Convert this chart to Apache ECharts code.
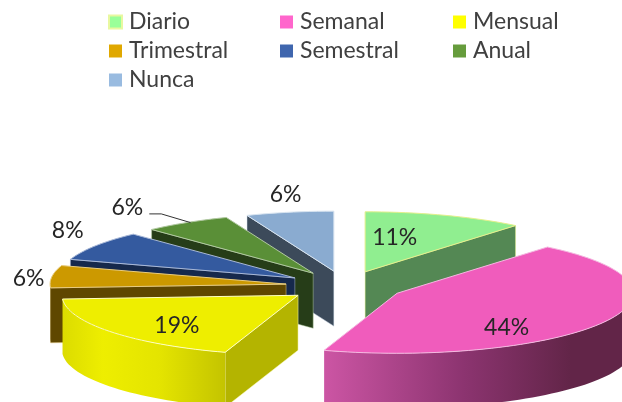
<!DOCTYPE html>
<html>
<head>
<meta charset="utf-8">
<style>
  html, body { margin: 0; padding: 0; background: #fff; }
  #chart { width: 622px; height: 402px; }
</style>
</head>
<body>
<div id="chart"></div>
<script src="https://cdn.jsdelivr.net/npm/echarts@6/dist/echarts.min.js"></script>
<script>
const categories = ['Diario', 'Semanal', 'Mensual', 'Trimestral', 'Semestral', 'Anual', 'Nunca'];
const values = [11, 44, 19, 6, 8, 6, 6];

// colores: leyenda, cara superior, pared
const legendColors = ['#99FF99', '#FF66CC', '#FFFF00', '#E0A800', '#3F66AE', '#669C3C', '#99BBE0'];
const topColors = ['#90EE90', '#F05CBC', '#EEEE00', '#CC9900', '#345A9F', '#5A8F37', '#8AABD0'];
const wallColors = ['#548854', '#622548', '#B4B400', '#5F4700', '#16294C', '#263D18', '#3C4A5A'];
const edgeColors = ['#E4F08C', '#F4B8E0', '#FFFFC0', '#E8CC80', '#A8B8D8', '#B0C8A0', '#D8E4F0'];
const arcStops = {
  1: [[0, '#CC55A4'], [0.45, '#8C3470'], [0.8, '#622548'], [1, '#622548']],
  2: [[0, '#DCDC00'], [0.25, '#EEEE00'], [0.6, '#E4E400'], [1, '#C4C400']]
};

// geometría de la tarta (elipse proyectada)
const cx = 345, cy = 286, rx = 236, ry = 60, depth = 55, explode = 0.2517;
// alcance de cada etiqueta desde el vértice [x, y]
const labelReach = [[0.37, 0.6], [0.53, 1.18], [0.65, 0.82], [1.1, 0.8], [1.14, 1.46], [1.47, 1.29], [1.09, 1.3]];
// orden de pintado, de atrás hacia delante
const paintOrder = [6, 5, 4, 3, 0, 2, 1];
const leaderSlice = 5;
const font = 'Lato, "Noto Sans", sans-serif';

const total = values.reduce((a, b) => a + b, 0);
const rad = (d) => d * Math.PI / 180;

function sliceAngles(i) {
  const before = values.slice(0, i).reduce((a, b) => a + b, 0);
  return [before / total * 360, (before + values[i]) / total * 360];
}

function arcPoints(apex, from, to) {
  const pts = [];
  const steps = Math.max(2, Math.ceil((to - from) / 2));
  for (let k = 0; k <= steps; k++) {
    const a = rad(from + (to - from) * k / steps);
    pts.push([apex[0] + rx * Math.sin(a), apex[1] - ry * Math.cos(a)]);
  }
  return pts;
}

const down = (p) => [p[0], p[1] + depth];

function renderSlice(i) {
  const [start, end] = sliceAngles(i);
  const mid = rad((start + end) / 2);
  const sin = Math.sin(mid), cos = Math.cos(mid);
  const apex = [cx + explode * rx * sin, cy - explode * ry * cos];
  const rim = arcPoints(apex, start, end);
  const children = [];

  // paredes radiales, solo las que miran al frente
  const walls = [];
  if (start >= 180) walls.push(rim[0]);
  if (end <= 180) walls.push(rim[rim.length - 1]);
  walls.forEach((p) => {
    children.push({
      type: 'polygon',
      shape: {points: [apex, p, down(p), down(apex)]},
      style: {fill: wallColors[i], stroke: edgeColors[i], lineWidth: 0.5}
    });
  });

  // pared exterior, solo la mitad delantera
  const from = Math.max(start, 90), to = Math.min(end, 270);
  if (to > from) {
    const front = arcPoints(apex, from, to);
    const xs = front.map((p) => p[0]);
    const stops = arcStops[i] || [[0, wallColors[i]], [1, wallColors[i]]];
    children.push({
      type: 'polygon',
      shape: {points: front.concat(front.map(down).reverse())},
      style: {
        fill: {
          type: 'linear',
          global: true,
          x: Math.min.apply(null, xs), y: 0, x2: Math.max.apply(null, xs), y2: 0,
          colorStops: stops.map((s) => ({offset: s[0], color: s[1]}))
        }
      }
    });
  }

  // cara superior
  children.push({
    type: 'polygon',
    shape: {points: [apex].concat(rim)},
    style: {fill: topColors[i], stroke: edgeColors[i], lineWidth: 1, lineJoin: 'round'}
  });

  // etiqueta de porcentaje
  const lx = apex[0] + labelReach[i][0] * rx * sin;
  const ly = apex[1] - labelReach[i][1] * ry * cos;
  children.push({
    type: 'text',
    z2: 10,
    style: {
      text: values[i] + '%',
      x: lx, y: ly,
      align: 'center', verticalAlign: 'middle',
      fontFamily: font, fontSize: 23,
      fill: '#262626'
    }
  });

  if (i === leaderSlice) {
    children.push({
      type: 'polyline',
      shape: {points: [
        [lx + 22, ly + 6],
        [lx + 34, ly + 6],
        [apex[0] + 0.97 * rx * sin, apex[1] - ry * cos]
      ]},
      style: {fill: null, stroke: '#333333', lineWidth: 1}
    });
  }
  return {type: 'group', children: children};
}

const legendColumns = [[0, 3, 6], [1, 4], [2, 5]];
const legendLeft = [108, 280, 453];

const option = {
  animation: false,
  backgroundColor: '#ffffff',
  legend: legendColumns.map((col, c) => ({
    orient: 'vertical',
    left: legendLeft[c],
    top: 9,
    data: col.map((i) => categories[i]),
    icon: 'rect',
    itemWidth: 13,
    itemHeight: 13,
    itemGap: 3,
    selectedMode: false,
    padding: 0,
    textStyle: {
      fontFamily: font,
      fontSize: 23,
      color: '#404040',
      lineHeight: 26,
      padding: [0, 0, 0, 2]
    }
  })),
  series: paintOrder.map((i) => ({
    type: 'custom',
    name: categories[i],
    coordinateSystem: 'none',
    silent: true,
    itemStyle: {color: legendColors[i], borderColor: i === 0 ? '#E8F8A0' : null, borderWidth: i === 0 ? 1 : 0},
    data: [values[i]],
    renderItem: () => renderSlice(i)
  }))
};

const chart = echarts.init(document.getElementById('chart'));
chart.setOption(option);
</script>
</body>
</html>
